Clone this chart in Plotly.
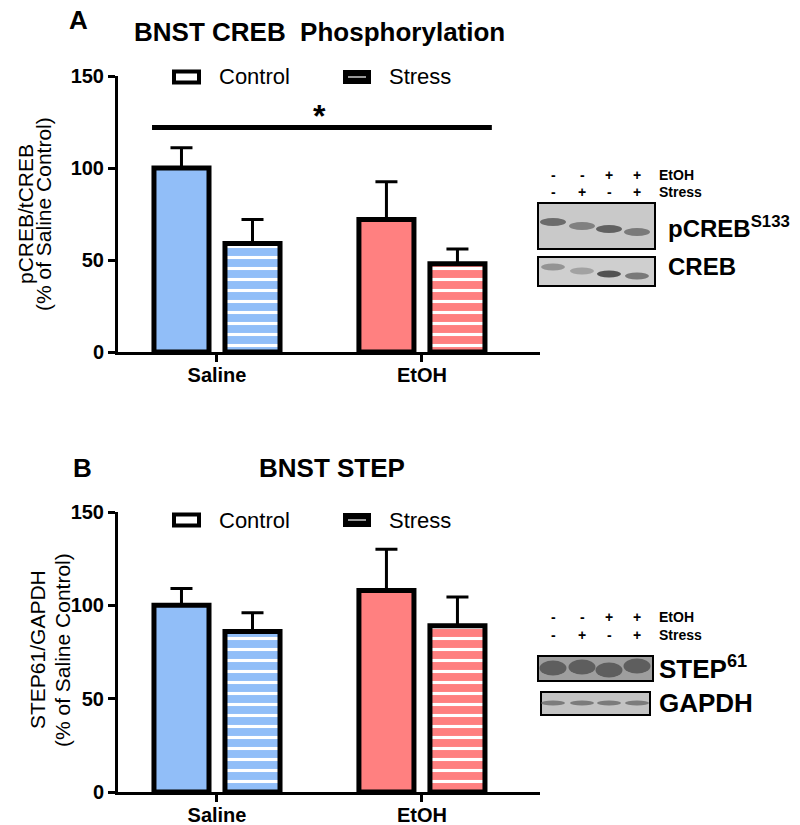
import plotly.graph_objects as go

# ---------------- data ----------------
categories = ["Saline", "EtOH"]
group_names = ["Control", "Stress"]

creb_control = [100, 72]
creb_control_err = [11, 20.5]
creb_stress = [59, 48]
creb_stress_err = [13, 8]

step_control = [100, 108]
step_control_err = [9, 22]
step_stress = [86, 89]
step_stress_err = [10, 15.5]

y_ticks = [0, 50, 100, 150]
sig_level = 122

etoh_signs = ["-", "-", "+", "+"]
stress_signs = ["-", "+", "-", "+"]

# ---------------- style ----------------
W, H = 800, 825
OFF = 8  # default page body margin of the written html
BLUE = "#91BEF8"
RED = "#FF8080"
cat_colors = [BLUE, RED]
FONT = "Liberation Sans, Arial, sans-serif"


def px(x):
    return (x - OFF) / W


def py(y):
    return 1 - (y - OFF) / H


fig = go.Figure()


def add_panel(xa, ya, ctrl, ctrl_err, strs, strs_err):
    fig.add_trace(go.Bar(
        x=categories, y=ctrl, name=group_names[0], xaxis=xa, yaxis=ya,
        marker=dict(color=cat_colors, line=dict(color="black", width=5)),
        error_y=dict(type="data", symmetric=False, array=ctrl_err,
                     arrayminus=[0] * len(ctrl_err), color="black",
                     thickness=3, width=11),
        offsetgroup="c", showlegend=False,
    ))
    for i, cat in enumerate(categories):
        fig.add_trace(go.Bar(
            x=[cat], y=[strs[i]], name=group_names[1], xaxis=xa, yaxis=ya,
            marker=dict(color=cat_colors[i], line=dict(color="black", width=5),
                        pattern=dict(shape="-", fillmode="replace",
                                     bgcolor=cat_colors[i], fgcolor="white",
                                     fgopacity=1, size=11, solidity=0.28)),
            error_y=dict(type="data", symmetric=False, array=[strs_err[i]],
                         arrayminus=[0], color="black", thickness=3, width=11),
            offsetgroup="s", showlegend=False,
        ))


add_panel("x", "y", creb_control, creb_control_err, creb_stress, creb_stress_err)
add_panel("x2", "y2", step_control, step_control_err, step_stress, step_stress_err)

xr = [-0.483, 1.576]
x_common = dict(type="category", range=xr, showline=True, linewidth=3,
                linecolor="black", ticks="outside", ticklen=7, tickwidth=3,
                tickcolor="black", showgrid=False, zeroline=False, automargin=False,
                categoryorder="array", categoryarray=categories,
                ticklabelstandoff=-4,
                tickfont=dict(family=FONT, size=20, color="black", weight="bold"),
                domain=[px(118), px(540)])
y_common = dict(range=[0, 150], tickvals=y_ticks, showline=True, linewidth=3,
                linecolor="black", ticks="outside", ticklen=7, tickwidth=3,
                tickcolor="black", showgrid=False, zeroline=False, automargin=False,
                tickfont=dict(family=FONT, size=20, color="black", weight="bold"))

fig.update_layout(
    width=W, height=H, margin=dict(l=0, r=0, t=0, b=0, pad=0, autoexpand=False),
    paper_bgcolor="white", plot_bgcolor="white",
    barmode="group", bargap=0.307, bargroupgap=0.225,
    showlegend=False,
    xaxis=dict(x_common, anchor="y"),
    yaxis=dict(y_common, anchor="x", domain=[py(352), py(76)]),
    xaxis2=dict(x_common, anchor="y2"),
    yaxis2=dict(y_common, anchor="x2", domain=[py(792), py(512)]),
    font=dict(family=FONT, color="black"),
)

ann = []
shapes = []


def text(x, y, s, size, bold=False, xanchor="center", yanchor="middle", angle=0):
    ann.append(dict(x=px(x), y=py(y), xref="paper", yref="paper", text=s,
                    showarrow=False, xanchor=xanchor, yanchor=yanchor,
                    textangle=angle,
                    font=dict(family=FONT, size=size, color="black",
                              weight="bold" if bold else "normal")))


def rect(x0, y0, x1, y1, fill, lw=0, lc="black"):
    shapes.append(dict(type="rect", xref="paper", yref="paper",
                       x0=px(x0), x1=px(x1), y0=py(y0), y1=py(y1),
                       fillcolor=fill, line=dict(width=lw, color=lc)))


def ellipse(cx, cy, w, h, fill, opacity=1.0):
    shapes.append(dict(type="circle", xref="paper", yref="paper",
                       x0=px(cx - w / 2), x1=px(cx + w / 2),
                       y0=py(cy + h / 2), y1=py(cy - h / 2),
                       fillcolor=fill, opacity=opacity, line=dict(width=0)))


# panel letters and titles
text(78, 20, "A", 26, bold=True)
text(319, 32, "BNST CREB  Phosphorylation", 26, bold=True)
text(82, 468, "B", 26, bold=True)
text(332, 468, "BNST STEP", 26, bold=True)

# y titles
text(25, 214, "pCREB/tCREB", 21, angle=-90)
text(43, 214, "(% of Saline Control)", 21, angle=-90)
text(37, 650, "STEP61/GAPDH", 21, angle=-90)
text(62, 650, "(% of Saline Control)", 21, angle=-90)

# legends
for ly in (77, 520):
    rect(174, ly - 5.5, 199, ly + 5.5, "white", lw=4)
    text(217, ly, group_names[0], 22, xanchor="left")
    rect(343, ly - 7, 371, ly + 7, "black")
    rect(348, ly - 0.6, 366, ly + 0.6, "white")
    text(387, ly, group_names[1], 22, xanchor="left")

# significance bar (data coordinates)
shapes.append(dict(type="line", xref="x", yref="y", x0=-0.317, x1=1.341,
                   y0=sig_level, y1=sig_level, line=dict(color="black", width=5)))
ann.append(dict(x=0.5, y=sig_level, xref="x", yref="y", text="*", showarrow=False,
                yanchor="bottom", xanchor="center", yshift=-8,
                font=dict(family=FONT, size=32, color="black", weight="bold")))

# ---------------- western blots ----------------
lanes = [553, 582, 609, 637]


def signs(y1, y2):
    for lx, e, s in zip(lanes, etoh_signs, stress_signs):
        text(lx, y1, e, 14, bold=True)
        text(lx, y2, s, 14, bold=True)
    text(657, y1, "EtOH", 14, bold=True, xanchor="left")
    text(657, y2, "Stress", 14, bold=True, xanchor="left")


# blot A
signs(175, 192)
rect(538, 203, 655, 249, "#c9c9c9", lw=2)
for lx, cy, col in zip(lanes, [222, 226, 229, 232], ["#5a5a5a", "#747474", "#4f4f4f", "#6c6c6c"]):
    ellipse(lx, cy, 26, 8, col, 0.85)
rect(538, 257, 655, 286, "#cfcfcf", lw=2)
for lx, cy, col in zip(lanes, [267, 271, 274, 276], ["#8a8a8a", "#9a9a9a", "#3c3c3c", "#6a6a6a"]):
    ellipse(lx, cy, 24, 7, col, 0.85)
text(666, 227, "pCREB<sup>S133</sup>", 24, bold=True, xanchor="left")
text(666, 266, "CREB", 24, bold=True, xanchor="left")

# blot B
signs(617, 635)
rect(538, 656, 653, 681, "#9e9e9e", lw=2)
for lx, cy in zip(lanes, [668, 667, 670, 666]):
    ellipse(lx, cy, 27, 15, "#4e4e4e", 0.8)
rect(541, 692, 650, 715, "#c3c3c3", lw=2)
for lx in lanes:
    ellipse(lx, 703, 24, 5, "#6e6e6e", 0.85)
text(657, 667, "STEP<sup>61</sup>", 26, bold=True, xanchor="left")
text(657, 703, "GAPDH", 26, bold=True, xanchor="left")

fig.update_layout(annotations=ann, shapes=shapes)
fig.write_html("out.html")
